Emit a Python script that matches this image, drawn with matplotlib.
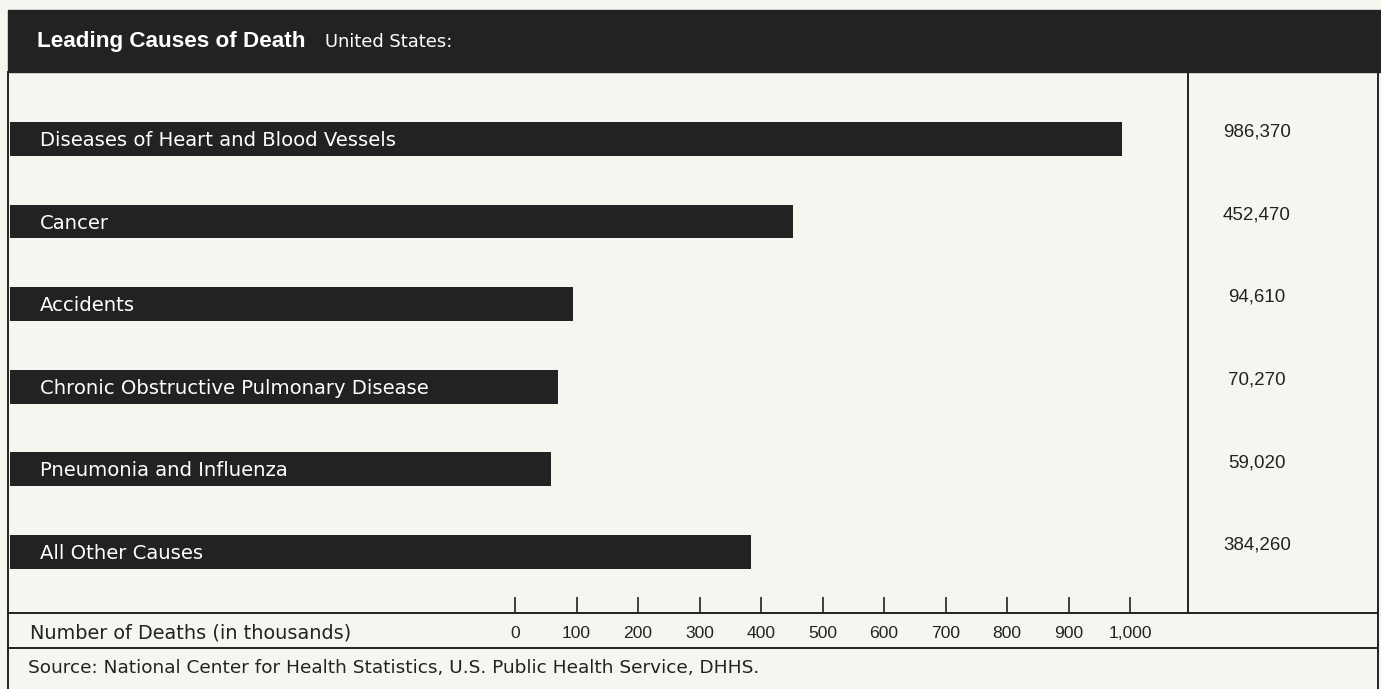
import matplotlib
matplotlib.use('Agg')
import matplotlib.pyplot as plt
from matplotlib.patches import Rectangle
from matplotlib.lines import Line2D
from matplotlib.transforms import blended_transform_factory

# Data (deaths, United States)
causes = ["Diseases of Heart and Blood Vessels", "Cancer", "Accidents",
          "Chronic Obstructive Pulmonary Disease", "Pneumonia and Influenza",
          "All Other Causes"]
deaths = [986370, 452470, 94610, 70270, 59020, 384260]
tick_values = [0, 100, 200, 300, 400, 500, 600, 700, 800, 900, 1000]
tick_labels = ["0", "100", "200", "300", "400", "500", "600", "700", "800", "900", "1,000"]

BG = '#f6f6f1'
INK = '#222222'
W, H = 1381, 689
WIDE = 'DejaVu Sans'   # reference labels are widely spaced

plt.rcParams['font.family'] = ['Liberation Sans', 'DejaVu Sans']

fig = plt.figure(figsize=(W / 100, H / 100), dpi=100, facecolor=BG)


def fx(x):
    return x / W


def fy(y):
    return 1 - y / H


# header band
fig.patches.append(Rectangle((fx(8), fy(72)), 1 - fx(8), fy(10) - fy(72),
                             transform=fig.transFigure, color=INK, zorder=0))
fig.text(fx(37), fy(41), "Leading Causes of Death", color='white',
         fontsize=16.2, fontweight='bold', va='center')
fig.text(fx(325), fy(42), "United States:", color='white', fontsize=12.9,
         family=WIDE, va='center')

# frame lines
lw = 1.4
for (x0, y0, x1, y1) in [(8, 72, 8, 689), (1378, 72, 1378, 689),
                         (1188, 72, 1188, 613), (8, 613, 1378, 613),
                         (8, 648, 1378, 648)]:
    fig.lines.append(Line2D([fx(x0), fx(x1)], [fy(y0), fy(y1)],
                            transform=fig.transFigure, color=INK, lw=lw))

# bar axes
ax = fig.add_axes([fx(10), fy(613), fx(1188) - fx(10), fy(72) - fy(613)])
ax.set_facecolor('none')
x_left, x_right = -821, 1094
ax.set_xlim(x_left, x_right)
ax.set_ylim(5.74, -0.81)

vals = [d / 1000 for d in deaths]
ypos = list(range(len(causes)))
ax.barh(ypos, [v - x_left for v in vals], left=x_left, height=0.41,
        color=INK, edgecolor='none')

for y, name in zip(ypos, causes):
    ax.text(0.0255, y + 0.02, name, transform=ax.get_yaxis_transform(),
            color='white', fontsize=14.1, family=WIDE, va='center')

vt = blended_transform_factory(fig.transFigure, ax.transData)
for y, d in zip(ypos, deaths):
    ax.text(fx(1257), y - 0.08, f"{d:,}", transform=vt, color=INK,
            fontsize=13.5, ha='center', va='center')

for s in ax.spines.values():
    s.set_visible(False)
ax.set_yticks([])
ax.set_xticks(tick_values)
ax.set_xticklabels(tick_labels)
ax.tick_params(axis='x', direction='in', length=11.5, width=1.2, color=INK,
               labelcolor=INK, labelsize=12.6, pad=9)

fig.text(fx(30), fy(633), "Number of Deaths (in thousands)", color=INK,
         fontsize=13.9, family=WIDE, va='center')
fig.text(fx(28), fy(668),
         "Source: National Center for Health Statistics, U.S. Public Health Service, DHHS.",
         color=INK, fontsize=13.3, family=WIDE, va='center')

fig.savefig('out.png', dpi=100, facecolor=BG)
